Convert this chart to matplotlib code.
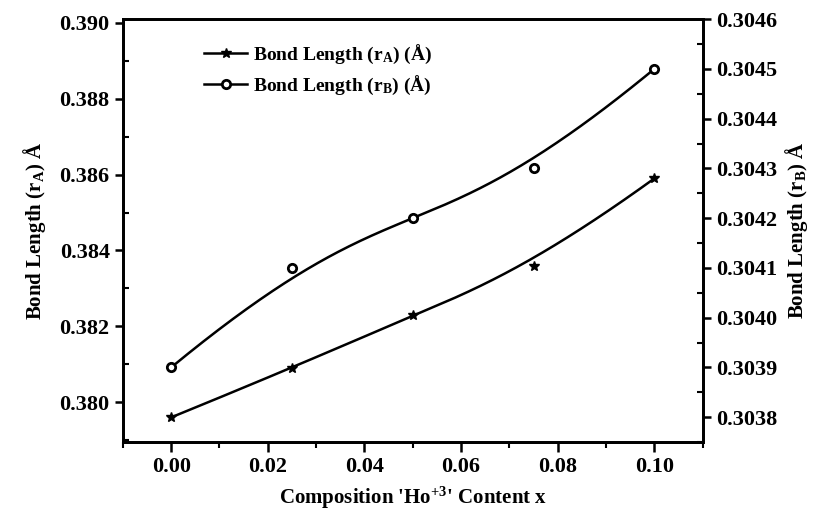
#!/usr/bin/env python3
import numpy as np
import matplotlib
matplotlib.use("Agg")
import matplotlib.pyplot as plt
from matplotlib.ticker import MultipleLocator, FormatStrFormatter

# ========= Daten =========
ho_content = [0.0, 0.025, 0.05, 0.075, 0.10]
r_a = [0.3796, 0.3809, 0.3823, 0.3836, 0.3859]          # Bond length r_A [Å]
r_b = [0.3039, 0.3041, 0.3042, 0.3043, 0.3045]          # Bond length r_B [Å]

label_a = r"Bond Length (r$_\mathregular{A}$) (Å)"
label_b = r"Bond Length (r$_\mathregular{B}$) (Å)"


def bspline(cx, cy, n=300, k=3):
    """clamped B-spline through the data points as control points (Origin-like)"""
    cx = np.asarray(cx)
    cy = np.asarray(cy)
    m = len(cx)
    knots = np.concatenate([np.zeros(k), np.linspace(0, 1, m - k + 1), np.ones(k)])
    t = np.linspace(0, 1, n)
    t[-1] -= 1e-9

    def basis(i, p):
        if p == 0:
            return ((knots[i] <= t) & (t < knots[i + 1])).astype(float)
        out = np.zeros_like(t)
        d1 = knots[i + p] - knots[i]
        if d1 > 0:
            out += (t - knots[i]) / d1 * basis(i, p - 1)
        d2 = knots[i + p + 1] - knots[i + 1]
        if d2 > 0:
            out += (knots[i + p + 1] - t) / d2 * basis(i + 1, p - 1)
        return out

    B = np.array([basis(i, k) for i in range(m)])
    return B.T @ cx, B.T @ cy


plt.rcParams["font.family"] = ["Liberation Serif", "DejaVu Serif"]
plt.rcParams["font.weight"] = "bold"
plt.rcParams["axes.labelweight"] = "bold"
plt.rcParams["mathtext.fontset"] = "custom"
plt.rcParams["mathtext.rm"] = "Liberation Serif:bold"
plt.rcParams["mathtext.it"] = "Liberation Serif:bold"
plt.rcParams["mathtext.bf"] = "Liberation Serif:bold"

fig = plt.figure(figsize=(8.19, 5.17), dpi=100)
ax = fig.add_axes([0.150, 0.145, 0.708, 0.818])
ax2 = ax.twinx()

# Kurven
xa, ya = bspline(ho_content, r_a)
xb, yb = bspline(ho_content, r_b)
ax.plot(xa, ya, color="black", lw=1.8)
ax.plot(ho_content, r_a, ls="none", marker="*", ms=7, color="black")
ax2.plot(xb, yb, color="black", lw=1.8)
ax2.plot(ho_content, r_b, ls="none", marker="o", ms=6, mfc="white", mec="black", mew=2)

# Legende (Proxy-Handles)
h1, = ax.plot([], [], color="black", lw=1.8, marker="*", ms=7, label=label_a)
h2, = ax.plot([], [], color="black", lw=1.8, marker="o", ms=6, mfc="white", mec="black",
              mew=2, label=label_b)
ax.legend(handles=[h1, h2], loc="upper left", bbox_to_anchor=(0.11, 0.985), frameon=False,
          fontsize=14, handlelength=2.2, handletextpad=0.3, labelspacing=0.4)

# Achsen
ax.set_xlim(-0.01, 0.11)
ax.set_ylim(0.37895, 0.3901)
ax2.set_ylim(0.30375, 0.3046)

ax.xaxis.set_major_locator(MultipleLocator(0.02))
ax.xaxis.set_minor_locator(MultipleLocator(0.01))
ax.xaxis.set_major_formatter(FormatStrFormatter("%.2f"))
ax.yaxis.set_major_locator(MultipleLocator(0.002))
ax.yaxis.set_minor_locator(MultipleLocator(0.001))
ax.yaxis.set_major_formatter(FormatStrFormatter("%.3f"))
ax2.yaxis.set_major_locator(MultipleLocator(0.0001))
ax2.yaxis.set_minor_locator(MultipleLocator(0.00005))
ax2.yaxis.set_major_formatter(FormatStrFormatter("%.4f"))

ax.tick_params(axis="x", which="major", direction="out", length=7, width=1.8, labelsize=16, top=False)
ax.tick_params(axis="x", which="minor", direction="out", length=4, width=1.5, top=False)
ax.tick_params(axis="y", which="major", direction="out", length=6, width=1.8, labelsize=16)
ax.tick_params(axis="y", which="minor", direction="in", length=4, width=1.5)
ax2.tick_params(axis="y", which="major", direction="out", length=6, width=1.8, labelsize=16)
ax2.tick_params(axis="y", which="minor", direction="in", length=4, width=1.5)

for a in (ax, ax2):
    for s in a.spines.values():
        s.set_linewidth(2)

ax.set_xlabel("Composition 'Ho$^{+3}$' Content x", fontsize=15, labelpad=6)
ax.set_ylabel(r"Bond Length (r$_\mathregular{A}$) Å", fontsize=15, labelpad=8)
ax2.set_ylabel(r"Bond Length (r$_\mathregular{B}$) Å", fontsize=15, labelpad=4)

fig.savefig("out.png", dpi=100)
